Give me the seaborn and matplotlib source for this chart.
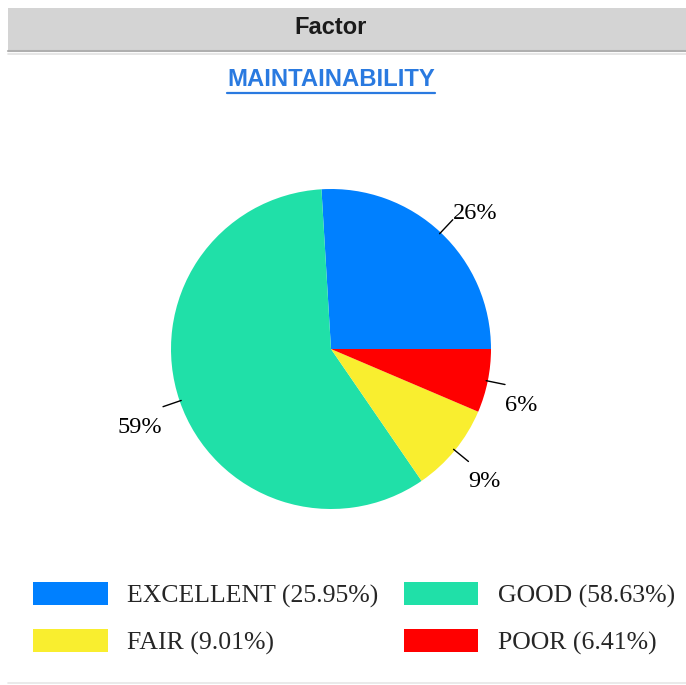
import matplotlib
matplotlib.use("Agg")
import matplotlib.pyplot as plt
import seaborn as sns
import numpy as np
from matplotlib.patches import Rectangle
from matplotlib.lines import Line2D

# ---- data ----
categories = ["EXCELLENT", "GOOD", "FAIR", "POOR"]          # counter-clockwise from 3 o'clock
percent = [25.95, 58.63, 9.01, 6.41]
pie_labels = ["26%", "59%", "9%", "6%"]
colors = ["#0080FF", "#20E0A8", "#F9EE2F", "#FF0000"]
legend_order = ["EXCELLENT", "FAIR", "GOOD", "POOR"]       # column-major -> rows EXC/GOOD, FAIR/POOR
header_text = "Factor"
title_text = "MAINTAINABILITY"

sns.set_theme(style="white")
plt.rcParams['font.family'] = ['Liberation Serif', 'DejaVu Serif']

W, H = 686, 685
fig = plt.figure(figsize=(W / 100, H / 100), dpi=100)
fig.patch.set_facecolor("white")


def fx(px):
    return px / W


def fy(py):
    return 1 - py / H


# header bar
fig.patches.append(Rectangle((fx(8), fy(50)), 1, fy(8) - fy(50), transform=fig.transFigure,
                             facecolor="#D4D4D4", edgecolor="none", zorder=0))
fig.add_artist(Line2D([fx(8), 1], [fy(51), fy(51)], color="#AFAFAF", lw=1.5))
fig.add_artist(Line2D([fx(8), 1], [fy(53.5), fy(53.5)], color="#E2E2E2", lw=1.2))
fig.text(fx(331), fy(28), header_text, ha="center", va="center", fontsize=17,
         fontweight="bold", color="#1A1A1A", family=["Liberation Sans"])

# title (underlined link)
t = fig.text(fx(331), fy(80), title_text, ha="center", va="center", fontsize=17.2,
             fontweight="bold", color="#2A7AE0", family=["Liberation Sans"])
fig.canvas.draw()
bb = t.get_window_extent()
inv = fig.transFigure.inverted()
(x0, y0), (x1, _) = inv.transform([(bb.x0, bb.y0 - 1), (bb.x1, bb.y0 - 1)])
fig.add_artist(Line2D([x0, x1], [y0, y0], color="#2A7AE0", lw=1.6))

# pie
cx, cy, r = 331, 349, 160
ax = fig.add_axes([fx(cx - r), fy(cy + r), 2 * r / W, 2 * r / H])
wedges, _ = ax.pie(percent, colors=colors, startangle=0, counterclock=True,
                   wedgeprops=dict(linewidth=0))
ax.set_xlim(-1, 1)
ax.set_ylim(-1, 1)
ax.set_axis_off()

for w, lab in zip(wedges, pie_labels):
    th = np.deg2rad((w.theta1 + w.theta2) / 2)
    xa, ya = 0.99 * np.cos(th), 0.99 * np.sin(th)
    xb, yb = 1.11 * np.cos(th), 1.11 * np.sin(th)
    ax.plot([xa, xb], [ya, yb], color="black", lw=1, clip_on=False)
    upper = yb > 0
    ax.annotate(lab, (xb, yb), xytext=(0 if xb > 0 else -1, 1 if upper else -10),
                textcoords="offset pixels",
                ha="left" if xb > 0 else "right",
                va="baseline" if upper else "top",
                fontsize=17.5, color="black", annotation_clip=False)

# legend
handles = [wedges[categories.index(c)] for c in legend_order]
labels = [f"{c} ({percent[categories.index(c)]:.2f}%)" for c in legend_order]
fig.legend(handles, labels, loc="upper left", bbox_to_anchor=(fx(33), fy(582)), ncol=2,
           frameon=False, fontsize=18.5, handlelength=2.9, handleheight=1.0,
           handletextpad=0.75, columnspacing=1.0, labelspacing=0.82,
           borderpad=0, borderaxespad=0)

# bottom rule
fig.add_artist(Line2D([fx(8), 1], [fy(683), fy(683)], color="#E6E6E6", lw=1.2))

fig.savefig("out.png", dpi=100)
